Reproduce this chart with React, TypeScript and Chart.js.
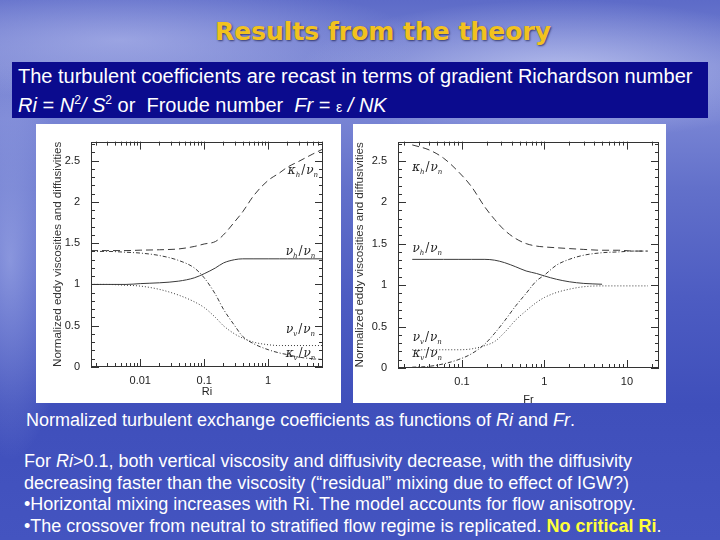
import React, { useEffect, useRef } from "react";
import { Chart, registerables } from "chart.js";
Chart.register(...registerables);

// ---------- DATA ----------
// Left panel: functions of gradient Richardson number Ri
const riGrid = [0.0017, 0.003, 0.006, 0.01, 0.02, 0.04, 0.07, 0.1, 0.15, 0.2, 0.3, 0.4, 0.6, 1, 1.5, 2, 3, 5, 7.2];
const riKappaH = [1.41, 1.41, 1.41, 1.415, 1.42, 1.43, 1.46, 1.49, 1.52, 1.6, 1.76, 1.88, 2.08, 2.26, 2.35, 2.42, 2.49, 2.58, 2.64];
const riNuH = [1.0, 1.0, 1.0, 1.01, 1.02, 1.04, 1.08, 1.13, 1.2, 1.26, 1.3, 1.31, 1.31, 1.31, 1.31, 1.31, 1.31, 1.31, 1.31];
const riNuV = [1.0, 1.0, 0.99, 0.98, 0.94, 0.87, 0.79, 0.72, 0.6, 0.5, 0.4, 0.35, 0.3, 0.27, 0.26, 0.26, 0.26, 0.26, 0.26];
const riKappaV = [1.4, 1.4, 1.39, 1.38, 1.35, 1.29, 1.2, 1.08, 0.88, 0.7, 0.5, 0.37, 0.28, 0.21, 0.17, 0.15, 0.12, 0.1, 0.09];

// Right panel: functions of Froude number Fr
const frGrid = [0.025, 0.04, 0.06, 0.09, 0.13, 0.19, 0.25, 0.33, 0.45, 0.6, 0.8, 1, 1.4, 2, 3, 5, 8, 12, 18];
const frKappaH = [2.69, 2.63, 2.53, 2.37, 2.19, 1.94, 1.79, 1.66, 1.56, 1.5, 1.47, 1.46, 1.45, 1.44, 1.43, 1.42, 1.42, 1.41, 1.41];
const frNuH = [1.31, 1.31, 1.31, 1.31, 1.31, 1.31, 1.3, 1.27, 1.22, 1.17, 1.14, 1.11, 1.07, 1.04, 1.02, 1.01, null, null, null];
const frNuV = [0.22, 0.22, 0.22, 0.22, 0.23, 0.27, 0.32, 0.43, 0.58, 0.69, 0.79, 0.85, 0.91, 0.95, 0.98, 0.99, 0.99, 0.99, 0.99];
const frKappaV = [0.01, 0.02, 0.05, 0.1, 0.17, 0.29, 0.42, 0.57, 0.75, 0.9, 1.05, 1.12, 1.24, 1.31, 1.36, 1.39, 1.4, 1.41, 1.41];

// axis ranges
const riRange = [0.0017, 7.2];
const frRange = [0.0168, 24.5];
const yRange = [0, 2.73];
const yTickStep = 0.5;
const yMinorStep = 0.1;

// curve labels: [symbol, sub, symbol, sub] anchored at data coordinates
const curveLabelParts = [
  ["κ", "h", "ν", "n"],
  ["ν", "h", "ν", "n"],
  ["ν", "v", "ν", "n"],
  ["κ", "v", "ν", "n"],
];
const riLabelX = [3.5, 3.2, 3.2, 3.2];
const riLabelY = [2.38, 1.41, 0.46, 0.165];
const frLabelX = [0.038, 0.038, 0.038, 0.038];
const frLabelY = [2.42, 1.45, 0.37, 0.18];

const yTitle = "Normalized eddy viscosities and diffusivities";

// ---------- helpers ----------
function toPoints(xs: number[], ys: (number | null)[]) {
  return xs.map((x, i) => ({ x, y: ys[i] }));
}

const framePlugin = {
  id: "frameTicks",
  afterDraw(chart: any) {
    const { ctx, chartArea: a, scales } = chart;
    const x = scales.x;
    const y = scales.y;
    ctx.save();
    ctx.strokeStyle = "#333";
    ctx.lineWidth = 1;
    ctx.strokeRect(Math.round(a.left) + 0.5, Math.round(a.top) + 0.5, Math.round(a.right - a.left) - 1, Math.round(a.bottom - a.top) - 1);
    ctx.beginPath();
    const e0 = Math.floor(Math.log10(x.min));
    const e1 = Math.ceil(Math.log10(x.max));
    for (let e = e0; e <= e1; e++) {
      for (let m = 1; m <= 9; m++) {
        const v = m * Math.pow(10, e);
        if (v < x.min || v > x.max) continue;
        const px = Math.round(x.getPixelForValue(v)) + 0.5;
        const len = m === 1 ? 8 : 4;
        ctx.moveTo(px, a.bottom);
        ctx.lineTo(px, a.bottom - len);
        ctx.moveTo(px, a.top);
        ctx.lineTo(px, a.top + len);
      }
    }
    const n = Math.floor(y.max / yMinorStep + 1e-6);
    for (let i = 0; i <= n; i++) {
      const v = i * yMinorStep;
      const major = Math.abs(v / yTickStep - Math.round(v / yTickStep)) < 1e-6;
      const py = Math.round(y.getPixelForValue(v)) + 0.5;
      const len = major ? 8 : 4;
      ctx.moveTo(a.left, py);
      ctx.lineTo(a.left + len, py);
      ctx.moveTo(a.right, py);
      ctx.lineTo(a.right - len, py);
    }
    ctx.stroke();

    const labs = chart.options.plugins.curveLabels;
    if (labs) {
      ctx.fillStyle = "#222";
      ctx.textBaseline = "alphabetic";
      labs.xs.forEach((lx: number, i: number) => {
        const parts = curveLabelParts[i];
        const px = x.getPixelForValue(lx);
        const py = y.getPixelForValue(labs.ys[i]) + 4;
        const big = 'italic 12px "DejaVu Serif"';
        const small = 'italic 7px "DejaVu Serif"';
        const slash = '12px "DejaVu Serif"';
        ctx.font = big;
        const w1 = ctx.measureText(parts[0]).width;
        const w3 = ctx.measureText(parts[2]).width;
        ctx.font = small;
        const w2 = ctx.measureText(parts[1]).width;
        const w4 = ctx.measureText(parts[3]).width;
        ctx.font = slash;
        const ws = ctx.measureText("/").width;
        const total = w1 + w2 + ws + 2 + w3 + w4;
        let cx = px - total / 2;
        ctx.font = big; ctx.fillText(parts[0], cx, py); cx += w1;
        ctx.font = small; ctx.fillText(parts[1], cx, py + 3); cx += w2 + 1;
        ctx.font = slash; ctx.fillText("/", cx, py); cx += ws + 1;
        ctx.font = big; ctx.fillText(parts[2], cx, py); cx += w3;
        ctx.font = small; ctx.fillText(parts[3], cx, py + 3);
      });
    }
    ctx.restore();
  },
};

function makeConfig(opts: any) {
  const lineStyle = (dash: number[]) => ({
    borderColor: "#3a3a3a",
    borderWidth: 1,
    borderDash: dash,
    pointRadius: 0,
    fill: false,
    cubicInterpolationMode: "monotone" as const,
    spanGaps: false,
  });
  return {
    type: "line" as const,
    data: {
      datasets: [
        { label: "kh", data: toPoints(opts.grid, opts.kh), ...lineStyle([7, 4]) },
        { label: "nh", data: toPoints(opts.grid, opts.nh), ...lineStyle([]) },
        { label: "nv", data: toPoints(opts.grid, opts.nv), ...lineStyle([1, 2]) },
        { label: "kv", data: toPoints(opts.grid, opts.kv), ...lineStyle([4, 2, 1, 2]) },
      ],
    },
    options: {
      animation: false,
      responsive: false,
      devicePixelRatio: 1,
      layout: { padding: { top: opts.padTop, right: opts.padRight, left: 0, bottom: 0 } },
      plugins: {
        legend: { display: false },
        tooltip: { enabled: false },
        curveLabels: { xs: opts.labelX, ys: opts.labelY },
      },
      scales: {
        x: {
          type: "logarithmic",
          min: opts.range[0],
          max: opts.range[1],
          grid: { display: false, drawTicks: false },
          border: { display: false },
          ticks: {
            autoSkip: false,
            maxRotation: 0,
            padding: opts.xTickPad,
            color: "#222",
            font: { family: "Liberation Sans", size: 11 },
            callback: (v: number) => {
              const l = Math.log10(v);
              return Math.abs(l - Math.round(l)) < 1e-6 ? String(Number(v.toPrecision(3))) : "";
            },
          },
          title: {
            display: true,
            text: opts.xTitle,
            color: "#222",
            font: { family: "Liberation Sans", size: 11 },
            padding: { top: 0, bottom: opts.xTitlePad },
          },
          afterFit: (s: any) => { s.height = opts.xHeight; },
        },
        y: {
          min: yRange[0],
          max: yRange[1],
          grid: { display: false, drawTicks: false },
          border: { display: false },
          ticks: {
            stepSize: yTickStep,
            includeBounds: false,
            padding: 11,
            color: "#222",
            font: { family: "Liberation Sans", size: 11 },
            callback: (v: number) => String(Number(v.toFixed(2))),
          },
          title: {
            display: true,
            text: yTitle,
            color: "#333",
            font: { family: "Liberation Sans", size: 11.6 },
            padding: { top: opts.yTitlePad, bottom: 0 },
          },
          afterFit: (s: any) => { s.width = opts.yWidth; },
        },
      },
    },
    plugins: [framePlugin],
  };
}

function ChartPanel(props: { cfg: any; w: number; h: number }) {
  const ref = useRef<HTMLCanvasElement>(null);
  useEffect(() => {
    const c = new Chart(ref.current as HTMLCanvasElement, makeConfig(props.cfg) as any);
    return () => c.destroy();
  }, []);
  return <canvas ref={ref} width={props.w} height={props.h} style={{ display: "block", width: props.w, height: props.h }} />;
}

const line: React.CSSProperties = {
  position: "absolute",
  whiteSpace: "nowrap",
  color: "#fff",
  fontFamily: '"Liberation Sans", Arial, sans-serif',
  transformOrigin: "left center",
};

export default function App() {
  useEffect(() => {
    document.body.style.margin = "0";
  }, []);
  const bodyFont = 18;
  return (
    <div
      style={{
        position: "fixed",
        left: 0,
        top: 0,
        width: 720,
        height: 540,
        overflow: "hidden",
        background:
          "radial-gradient(ellipse 260px 70px at 560px 70px, rgba(225,230,255,0.55), rgba(225,230,255,0) 100%)," +
          "radial-gradient(ellipse 300px 60px at 120px 40px, rgba(210,215,250,0.45), rgba(210,215,250,0) 100%)," +
          "radial-gradient(ellipse 60px 200px at 10px 260px, rgba(190,200,245,0.5), rgba(190,200,245,0) 100%)," +
          "linear-gradient(180deg, #5d6bc8 0%, #7783d2 12%, #7884d4 22%, #6270ca 35%, #4d5cc2 55%, #3f4fbb 75%, #4454c0 100%)",
      }}
    >
      <div
        style={{
          position: "absolute",
          left: 0,
          width: 766,
          top: 16,
          textAlign: "center",
          fontFamily: '"DejaVu Sans", Verdana, sans-serif',
          fontWeight: "bold",
          fontSize: 25,
          lineHeight: "32px",
          color: "#f2c21e",
          textShadow: "1px 1px 2px rgba(0,0,40,0.6)",
        }}
      >
        Results from the theory
      </div>

      <div style={{ position: "absolute", left: 12, top: 62, width: 696, height: 56, background: "#0b0b8e" }} />
      <div style={{ ...line, left: 18, top: 64, fontSize: 20, lineHeight: "24px" }}>
        The turbulent coefficients are recast in terms of gradient Richardson number
      </div>
      <div style={{ ...line, left: 18, top: 88, fontSize: 20, lineHeight: "24px" }}>
        <i>Ri</i> = <i>N</i>
        <sup style={{ fontSize: 12 }}>2</sup>
        <i>/ S</i>
        <sup style={{ fontSize: 12 }}>2</sup> or&nbsp; Froude number&nbsp; <i>Fr</i> = <span style={{ fontSize: 14 }}>ε</span>
        <i> / NK</i>
      </div>

      <div style={{ position: "absolute", left: 36, top: 124, width: 305, height: 279, background: "#fff" }}>
        <ChartPanel
          w={305}
          h={279}
          cfg={{
            grid: riGrid, kh: riKappaH, nh: riNuH, nv: riNuV, kv: riKappaV,
            range: riRange, labelX: riLabelX, labelY: riLabelY, xTitle: "Ri",
            padTop: 11, padRight: 18, yWidth: 55, xHeight: 36, xTickPad: 7, xTitlePad: 4, yTitlePad: 15,
          }}
        />
      </div>
      <div style={{ position: "absolute", left: 353, top: 124, width: 313, height: 279, background: "#fff", overflow: "hidden" }}>
        <ChartPanel
          w={313}
          h={290}
          cfg={{
            grid: frGrid, kh: frKappaH, nh: frNuH, nv: frNuV, kv: frKappaV,
            range: frRange, labelX: frLabelX, labelY: frLabelY, xTitle: "Fr",
            padTop: 10, padRight: 2, yWidth: 45, xHeight: 46, xTickPad: 7, xTitlePad: 7, yTitlePad: 0,
          }}
        />
      </div>

      <div style={{ ...line, left: 26, top: 409, fontSize: bodyFont, lineHeight: "22px" }}>
        Normalized turbulent exchange coefficients as functions of <i>Ri</i> and <i>Fr</i>.
      </div>
      <div style={{ ...line, left: 24, top: 450, fontSize: bodyFont, lineHeight: "22px" }}>
        For <i>Ri</i>&gt;0.1, both vertical viscosity and diffusivity decrease, with the diffusivity
      </div>
      <div style={{ ...line, left: 24, top: 472, fontSize: bodyFont, lineHeight: "22px" }}>
        decreasing faster than the viscosity (“residual” mixing due to effect of IGW?)
      </div>
      <div style={{ ...line, left: 24, top: 493, fontSize: bodyFont, lineHeight: "22px" }}>
        •Horizontal mixing increases with Ri. The model accounts for flow anisotropy.
      </div>
      <div style={{ ...line, left: 24, top: 515, fontSize: bodyFont, lineHeight: "22px" }}>
        •The crossover from neutral to stratified flow regime is replicated.{" "}
        <b style={{ color: "#ffff3a" }}>No critical Ri</b>.
      </div>
    </div>
  );
}
